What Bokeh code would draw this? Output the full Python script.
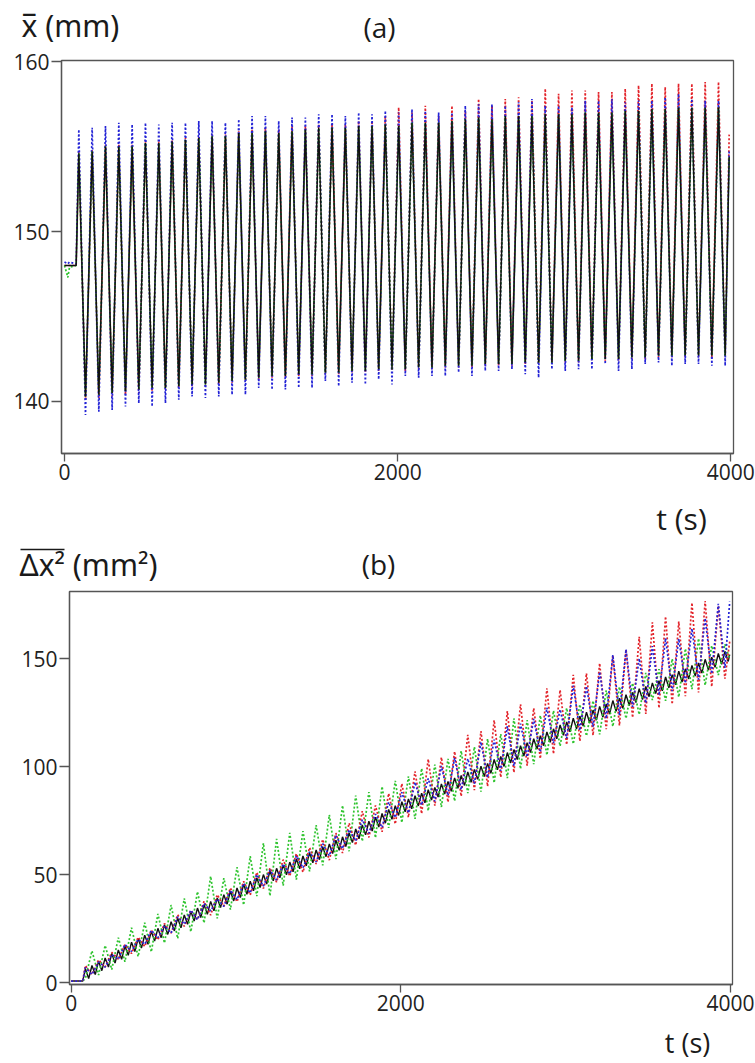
from bokeh.plotting import figure
from bokeh.layouts import column
from bokeh.models import Label, Range1d, FixedTicker, Column
from bokeh.embed import file_html
from bokeh.resources import INLINE

FONT = "Open Sans"
RED = "#e3242b"
BLUE = "#2424d6"
GREEN = "#2fc42f"
BLACK = "#111111"
W = 755

# ---------------- data ----------------
PEAK_T = [86, 166, 246, 326, 406, 486, 566, 646, 726, 806, 886, 966, 1046, 1126, 1206, 1286,
          1366, 1446, 1526, 1606, 1686, 1766, 1846, 1926, 2006, 2086, 2166, 2246, 2326, 2406,
          2486, 2566, 2646, 2726, 2806, 2886, 2966, 3046, 3126, 3206, 3286, 3366, 3446, 3526,
          3606, 3686, 3766, 3846, 3926]
TROUGH_T = [126, 206, 286, 366, 446, 526, 606, 686, 766, 846, 926, 1006, 1086, 1166, 1246, 1326,
            1406, 1486, 1566, 1646, 1726, 1806, 1886, 1966, 2046, 2126, 2206, 2286, 2366, 2446,
            2526, 2606, 2686, 2766, 2846, 2926, 3006, 3086, 3166, 3246, 3326, 3406, 3486, 3566,
            3646, 3726, 3806, 3886, 3966]

# ---- panel (a): mean position (mm) ----
A_START_T = [0, 20, 30, 70]
A_BLACK_START = [148.0, 148.0, 148.0, 148.0]
A_RED_START = [148.0, 148.0, 148.0, 148.0]
A_BLUE_START = [148.2, 148.1, 148.2, 148.1]
A_GREEN_START = [148.0, 147.3, 147.9, 148.0]
A_END_T = [3990]
A_BLACK_END = [154.4]
A_RED_END = [155.7]
A_BLUE_END = [154.8]
A_GREEN_END = [154.4]

A_BLACK_PEAK = [154.6, 154.7, 155.0, 155.0, 155.0, 155.2, 155.2, 155.3, 155.4, 155.5, 155.6, 155.6,
                155.8, 155.8, 155.9, 155.8, 155.9, 156.0, 156.1, 156.1, 156.1, 156.2, 156.2,
                156.3, 156.2, 156.4, 156.4, 156.4, 156.5, 156.6, 156.7, 156.6, 156.8, 156.8, 156.8,
                156.9, 156.9, 156.9, 157.0, 157.0, 157.0, 157.1, 157.1, 157.2, 157.2, 157.3, 157.3,
                157.3, 157.3]
A_BLACK_TROUGH = [140.3, 140.4, 140.5, 140.6, 140.7, 140.8, 140.8, 140.9, 141.0, 141.0, 141.1, 141.2,
                  141.3, 141.4, 141.5, 141.5, 141.6, 141.6, 141.7, 141.7, 141.8, 141.8, 141.9,
                  141.9, 141.9, 142.0, 142.0, 142.1, 142.1, 142.1, 142.2, 142.2, 142.2, 142.3, 142.3,
                  142.3, 142.4, 142.4, 142.5, 142.5, 142.5, 142.6, 142.6, 142.7, 142.7, 142.7, 142.7,
                  142.7, 142.7]
A_BLUE_PEAK = [156.0, 156.1, 156.2, 156.4, 156.3, 156.4, 156.3, 156.4, 156.4, 156.5, 156.5, 156.4,
               156.6, 156.8, 156.8, 156.5, 156.7, 156.7, 156.9, 156.9, 156.8, 157.0, 156.9,
               157.1, 157.0, 157.2, 157.1, 157.0, 157.0, 157.4, 157.5, 157.5, 157.4, 157.6, 157.8,
               157.4, 157.4, 157.3, 157.7, 157.7, 157.8, 157.6, 157.7, 157.7, 157.9, 158.1, 157.8,
               157.7, 157.7]
A_BLUE_TROUGH = [139.2, 139.4, 139.5, 139.7, 139.9, 139.7, 139.9, 140.1, 140.3, 140.2, 140.3, 140.4,
                 140.4, 140.8, 140.7, 140.7, 140.8, 140.8, 141.2, 140.9, 141.1, 141.0, 141.3,
                 141.0, 141.5, 141.4, 141.5, 141.5, 141.7, 141.5, 141.8, 141.8, 141.9, 141.6, 141.4,
                 141.9, 141.8, 141.9, 141.9, 142.2, 141.8, 141.9, 142.2, 142.3, 142.1, 142.2, 142.2,
                 142.1, 142.1]
A_RED_PEAK = [154.7, 154.8, 155.1, 155.1, 155.1, 155.3, 155.3, 155.4, 155.5, 155.6, 155.7, 155.7,
              155.9, 156.0, 156.1, 156.0, 156.2, 156.2, 156.3, 156.3, 156.3, 156.5, 156.5,
              156.8, 157.3, 157.0, 157.4, 156.8, 157.4, 157.1, 157.8, 157.4, 157.8, 157.9, 157.7,
              158.4, 158.1, 158.3, 158.3, 158.2, 158.2, 158.4, 158.6, 158.7, 158.5, 158.7, 158.7,
              158.8, 158.8]
A_RED_TROUGH = [140.1, 140.2, 140.3, 140.4, 140.5, 140.6, 140.7, 140.8, 140.9, 140.9, 141.0, 141.1,
                141.2, 141.3, 141.4, 141.4, 141.5, 141.5, 141.6, 141.6, 141.7, 141.7, 141.8,
                141.8, 141.8, 141.9, 141.9, 142.0, 142.0, 142.0, 142.1, 142.1, 142.1, 142.2, 142.2,
                142.2, 142.3, 142.3, 142.4, 142.4, 142.4, 142.5, 142.5, 142.6, 142.6, 142.6, 142.6,
                142.6, 142.6]
# green lies under the black curve everywhere except at the start
A_GREEN_PEAK = A_BLACK_PEAK
A_GREEN_TROUGH = A_BLACK_TROUGH

# ---- panel (b): mean square displacement (mm^2) ----
B_START_T = [0, 70]
B_BLACK_START = [0.8, 0.8]
B_RED_START = [0.8, 0.8]
B_BLUE_START = [0.8, 0.8]
B_GREEN_START = [0.8, 0.8]
B_END_T = [3995]
B_BLACK_END = [152.0]
B_RED_END = [158.0]
B_BLUE_END = [176.5]
B_GREEN_END = [150.0]

B_BLACK_LO_T = [106, 146, 186, 226, 266, 306, 346, 386, 426, 466, 506, 546, 586, 626, 666, 706,
                746, 786, 826, 866, 906, 946, 986, 1026, 1066, 1106, 1146, 1186, 1226, 1266, 1306,
                1346, 1386, 1426, 1466, 1506, 1546, 1586, 1626, 1666, 1706, 1746, 1786, 1826, 1866,
                1906, 1946, 1986, 2026, 2066, 2106, 2146, 2186, 2226, 2266, 2306, 2346, 2386, 2426,
                2466, 2506, 2546, 2586, 2626, 2666, 2706, 2746, 2786, 2826, 2866, 2906, 2946, 2986,
                3026, 3066, 3106, 3146, 3186, 3226, 3266, 3306, 3346, 3386, 3426, 3466, 3506, 3546,
                3586, 3626, 3666, 3706, 3746, 3786, 3826, 3866, 3906, 3946, 3986]
B_BLACK_HI = [6.5, 8.0, 10.0, 11.5, 13.6, 15.2, 17.0, 18.8, 20.5, 22.0,
              23.8, 25.2, 26.9, 28.3, 30.0, 31.4, 33.1, 34.6, 36.2, 37.7,
              39.3, 40.8, 42.4, 43.9, 45.6, 47.0, 48.6, 50.1, 51.8, 53.0,
              54.6, 55.9, 57.4, 58.7, 60.2, 61.5, 63.0, 64.3, 66.0, 67.6,
              69.5, 71.2, 73.1, 74.8, 76.7, 78.4, 80.3, 82.0, 83.9, 85.1,
              86.6, 87.8, 89.4, 90.5, 92.1, 93.2, 94.9, 96.0, 97.6, 98.8,
              100.3, 101.6, 103.4, 104.8, 106.6, 108.0, 109.8, 111.2, 113.0, 114.4,
              116.2, 117.6, 119.4, 120.8, 122.5, 123.5, 125.3, 126.3, 128.0, 129.1,
              130.7, 131.8, 133.4, 134.5, 136.2, 137.2, 138.9, 139.9, 141.6, 142.7,
              144.3, 145.4, 147.0, 148.1, 149.8, 150.8, 152.5, 153.5]
B_BLACK_LO = [2.0, 3.8, 5.6, 7.3, 9.1, 10.9, 12.7, 14.5, 16.1, 17.8,
              19.3, 20.9, 22.4, 24.0, 25.5, 27.1, 28.6, 30.2, 31.7, 33.3,
              34.8, 36.4, 37.9, 39.5, 41.0, 42.6, 44.1, 45.7, 47.2, 48.6,
              50.0, 51.4, 52.8, 54.2, 55.6, 57.0, 58.4, 59.8, 61.3, 63.1,
              64.9, 66.7, 68.5, 70.3, 72.1, 73.9, 75.7, 77.5, 79.2, 80.6,
              81.9, 83.3, 84.6, 86.0, 87.4, 88.7, 90.1, 91.4, 92.8, 94.2,
              95.5, 97.0, 98.6, 100.2, 101.8, 103.4, 105.0, 106.6, 108.2, 109.8,
              111.4, 113.0, 114.6, 116.2, 117.6, 118.9, 120.3, 121.6, 123.0, 124.4,
              125.7, 127.1, 128.4, 129.8, 131.2, 132.5, 133.9, 135.2, 136.6, 138.0,
              139.3, 140.7, 142.0, 143.4, 144.8, 146.1, 147.5, 148.8]
B_RED_PEAK = [8.0, 10.6, 14.1, 17.7, 21.1, 24.3, 27.4, 31.5, 33.6, 37.7, 40.8, 43.9, 47.0, 51.1,
              53.2, 57.0, 59.8, 62.6, 66.4, 69.3, 73.9, 79.5, 82.1, 87.7, 92.2, 97.9, 103.6,
              104.4, 107.1, 114.8, 116.5, 121.6, 125.8, 129.0, 127.2, 136.4, 135.6, 142.6, 143.3,
              148.0, 151.7, 154.4, 160.2, 166.9, 169.6, 167.3, 176.0, 176.8, 174.5]
B_RED_TROUGH = [3.8, 7.3, 10.9, 13.5, 16.8, 19.9, 23.0, 26.1, 29.2, 31.3, 35.4, 37.5, 40.6, 43.7,
                46.6, 49.4, 51.2, 55.0, 56.8, 60.1, 63.7, 67.3, 69.9, 73.5, 76.6, 78.3, 82.0,
                83.7, 86.4, 89.2, 91.0, 95.2, 97.4, 100.6, 103.8, 106.0, 110.2, 111.9, 114.6,
                117.4, 119.1, 122.8, 124.5, 127.2, 129.0, 132.7, 134.4, 137.1, 140.8]
B_BLUE_PEAK = [7.0, 9.6, 13.1, 17.7, 20.1, 24.3, 26.4, 30.5, 33.6, 36.7, 38.8, 42.9, 46.0, 50.1,
               52.2, 55.0, 58.8, 60.6, 64.4, 68.3, 70.9, 75.5, 78.1, 83.7, 88.2, 92.9, 94.6,
               100.4, 104.1, 103.8, 111.5, 112.6, 118.8, 120.0, 122.2, 127.4, 126.6, 137.6, 137.3,
               144.0, 151.7, 154.4, 150.2, 155.9, 159.6, 159.3, 164.0, 168.8, 175.5]
B_BLUE_TROUGH = [3.8, 7.3, 10.9, 14.5, 17.8, 20.9, 23.0, 27.1, 29.2, 33.3, 35.4, 38.5, 41.6, 44.7,
                 47.6, 50.4, 53.2, 56.0, 58.8, 62.1, 65.7, 69.3, 71.9, 76.5, 78.6, 82.3, 84.0,
                 86.7, 89.4, 92.2, 95.0, 98.2, 100.4, 104.6, 106.8, 111.0, 113.2, 116.9, 118.6,
                 122.4, 124.1, 127.8, 129.5, 133.2, 135.0, 138.7, 140.4, 143.1, 145.8]
B_GREEN_PEAK = [14.8, 17.3, 20.9, 25.5, 27.8, 31.9, 36.0, 39.1, 42.2, 49.3, 48.4, 53.5, 58.6, 64.7,
                66.6, 69.4, 70.2, 73.0, 77.8, 82.1, 86.7, 88.3, 90.9, 93.5, 95.6, 99.3, 101.0,
                103.7, 107.4, 109.2, 113.0, 115.2, 122.4, 121.6, 123.8, 126.0, 127.2, 128.9, 130.6,
                135.4, 137.1, 138.8, 143.5, 145.2, 150.0, 154.7, 159.4, 156.1, 156.8]
B_GREEN_TROUGH = [2.0, 3.6, 6.1, 9.7, 12.1, 14.3, 18.4, 20.5, 23.6, 27.7, 29.8, 33.9, 36.0, 40.1,
                  40.2, 45.0, 47.8, 51.6, 54.4, 57.3, 60.9, 65.5, 67.1, 71.7, 74.2, 75.9, 79.6,
                  81.4, 84.1, 87.8, 88.5, 92.6, 94.8, 99.0, 101.2, 105.4, 109.6, 110.6, 114.3,
                  115.0, 118.7, 122.4, 124.2, 130.9, 130.6, 132.3, 136.0, 137.8, 142.5]

A_X_TICKS = [0, 2000, 4000]
A_Y_TICKS = [140, 150, 160]
B_X_TICKS = [0, 2000, 4000]
B_Y_TICKS = [0, 50, 100, 150]


def series(*parts):
    pts = []
    for ts, vs in parts:
        pts += list(zip(ts, vs))
    pts.sort(key=lambda p: p[0])
    return [p[0] for p in pts], [p[1] for p in pts]


def style(p, xt, yt):
    p.xgrid.visible = False
    p.ygrid.visible = False
    p.outline_line_color = "#555555"
    p.outline_line_width = 1.3
    p.background_fill_color = "white"
    p.border_fill_color = "white"
    p.xaxis.ticker = FixedTicker(ticks=xt)
    p.yaxis.ticker = FixedTicker(ticks=yt)
    for ax in (p.xaxis[0], p.yaxis[0]):
        ax.axis_line_color = "#555555"
        ax.axis_line_width = 1.3
        ax.major_tick_line_color = "#555555"
        ax.major_tick_line_width = 1.3
        ax.major_tick_in = 0
        ax.minor_tick_out = 0
        ax.minor_tick_in = 0
        ax.major_label_text_font = FONT
        ax.major_label_text_font_size = "21px"
        ax.major_label_text_color = "#222222"
    p.xaxis.major_tick_out = 8
    p.yaxis.major_tick_out = 10
    p.xaxis.major_label_standoff = 2
    p.yaxis.major_label_standoff = 2


def strip(h):
    """A blank strip (no axes) holding panel captions, in pixel units."""
    s = figure(output_backend="svg", toolbar_location=None, width=W, height=h,
               x_range=Range1d(0, W), y_range=Range1d(h, 0),
               x_axis_type=None, y_axis_type=None,
               min_border=0, min_border_left=0, min_border_right=0,
               min_border_top=0, min_border_bottom=0)
    s.outline_line_color = None
    s.xgrid.visible = False
    s.ygrid.visible = False
    s.background_fill_color = "white"
    s.border_fill_color = "white"
    return s


def label(p, x, y, text, size, align="left", baseline="middle", font=FONT):
    p.add_layout(Label(x=x, y=y, text=text, text_font=font, text_font_size=size,
                       text_color="#1a1a1a", text_align=align, text_baseline=baseline))


def box(child):
    return Column(children=[child])


# ---------------- captions of panel (a) ----------------
head_a = strip(46)
label(head_a, 21, 25, "x\u0305 (mm)", "30px", font="Noto Sans")
label(head_a, 379, 26.5, "(a)", "28px", "center")

# ---------------- panel (a) ----------------
pa = figure(output_backend="svg", toolbar_location=None,
            frame_width=672, frame_height=393,
            min_border_left=61, min_border_right=22, min_border_top=14, min_border_bottom=39,
            x_range=Range1d(-18, 4016), y_range=Range1d(136.94, 160.06))
style(pa, A_X_TICKS, A_Y_TICKS)

dot = dict(line_width=1.7, line_dash="2 2")
tr, vr = series((A_START_T, A_RED_START), (PEAK_T, A_RED_PEAK), (TROUGH_T, A_RED_TROUGH), (A_END_T, A_RED_END))
pa.line(tr, vr, color=RED, **dot)
tb, vb = series((A_START_T, A_BLUE_START), (PEAK_T, A_BLUE_PEAK), (TROUGH_T, A_BLUE_TROUGH), (A_END_T, A_BLUE_END))
pa.line(tb, vb, color=BLUE, **dot)
tg, vg = series((A_START_T, A_GREEN_START), (PEAK_T, A_GREEN_PEAK), (TROUGH_T, A_GREEN_TROUGH), (A_END_T, A_GREEN_END))
pa.line(tg, vg, color=GREEN, **dot)
tk, vk = series((A_START_T, A_BLACK_START), (PEAK_T, A_BLACK_PEAK), (TROUGH_T, A_BLACK_TROUGH), (A_END_T, A_BLACK_END))
pa.line(tk, vk, color=BLACK, line_width=1.4)

# ---------------- captions between the panels ----------------
head_b = strip(96)
label(head_b, 681, 26, "t (s)", "30px", "center")
label(head_b, 19, 72, "\u0394x\u00b2 (mm\u00b2)", "30px", font="Noto Sans")
head_b.segment(x0=[20], y0=[57], x1=[64], y1=[57], line_color="#1a1a1a", line_width=1.6)
label(head_b, 378, 71, "(b)", "28px", "center")

# ---------------- panel (b) ----------------
pb = figure(output_backend="svg", toolbar_location=None,
            frame_width=663, frame_height=393,
            min_border_left=69, min_border_right=23, min_border_top=3, min_border_bottom=39,
            x_range=Range1d(-10.3, 4012), y_range=Range1d(-0.8, 181.2))
style(pb, B_X_TICKS, B_Y_TICKS)

HALF_T = sorted(PEAK_T + TROUGH_T)
tk, vk = series((B_START_T, B_BLACK_START), (HALF_T, B_BLACK_HI), (B_BLACK_LO_T, B_BLACK_LO), (B_END_T, B_BLACK_END))
pb.line(tk, vk, color=BLACK, line_width=1.4)
tg, vg = series((B_START_T, B_GREEN_START), (TROUGH_T, B_GREEN_PEAK), (PEAK_T, B_GREEN_TROUGH), (B_END_T, B_GREEN_END))
pb.line(tg, vg, color=GREEN, **dot)
tr, vr = series((B_START_T, B_RED_START), (PEAK_T, B_RED_PEAK), (TROUGH_T, B_RED_TROUGH), (B_END_T, B_RED_END))
pb.line(tr, vr, color=RED, **dot)
tb, vb = series((B_START_T, B_BLUE_START), (PEAK_T, B_BLUE_PEAK), (TROUGH_T, B_BLUE_TROUGH), (B_END_T, B_BLUE_END))
pb.line(tb, vb, color=BLUE, **dot)

foot_b = strip(38)
label(foot_b, 687, 19, "t (s)", "27px", "center")

layout = column(box(head_a), box(pa), box(head_b), box(pb), box(foot_b))
open("out.html", "w").write(file_html(layout, INLINE))
